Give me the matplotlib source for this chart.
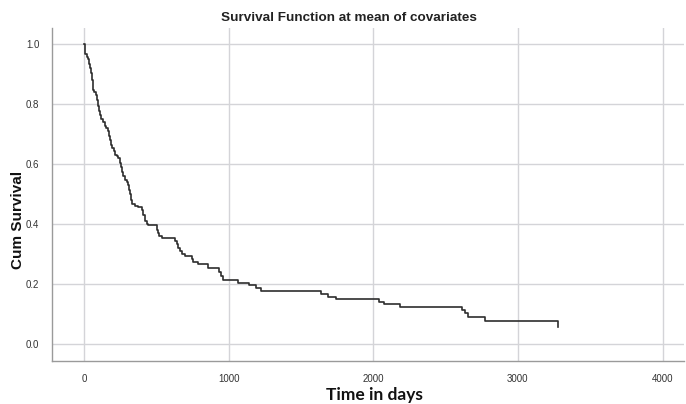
import matplotlib
matplotlib.use("Agg")
import matplotlib.pyplot as plt

# step points of the survival curve (time in days, cumulative survival)
times = [0, 5, 10, 18, 28, 35, 42, 51, 56, 62, 70, 80, 88, 96, 104, 112, 120,
         130, 143, 155, 166, 172, 180, 188, 196, 205, 214, 225, 237, 248, 256,
         262, 272, 283, 295, 306, 312, 318, 324, 329, 350, 375, 398, 410, 421,
         433, 444, 502, 510, 520, 537, 628, 640, 651, 663, 675, 697, 744, 755,
         789, 858, 934, 945, 958, 1066, 1142, 1188, 1227, 1641, 1688, 1740,
         2039, 2072, 2187, 2615, 2635, 2654, 2776, 3276]
surv = [1.0, 0.985, 0.968, 0.958, 0.949, 0.935, 0.92, 0.905, 0.88, 0.848, 0.84,
        0.83, 0.815, 0.795, 0.778, 0.765, 0.752, 0.74, 0.728, 0.72, 0.712,
        0.695, 0.68, 0.665, 0.655, 0.645, 0.632, 0.628, 0.622, 0.605, 0.59,
        0.575, 0.56, 0.548, 0.54, 0.532, 0.515, 0.5, 0.482, 0.466, 0.462,
        0.458, 0.448, 0.43, 0.412, 0.402, 0.396, 0.38, 0.37, 0.362, 0.354,
        0.345, 0.335, 0.322, 0.31, 0.302, 0.294, 0.284, 0.275, 0.266, 0.254,
        0.24, 0.228, 0.213, 0.204, 0.196, 0.188, 0.177, 0.167, 0.159, 0.150,
        0.142, 0.133, 0.123, 0.113, 0.103, 0.091, 0.078, 0.059]

xticks = [0, 1000, 2000, 3000, 4000]
yticks = [0.0, 0.2, 0.4, 0.6, 0.8, 1.0]

fig = plt.figure(figsize=(6.86, 4.04), dpi=100)
ax = fig.add_axes([0.0754, 0.1064, 0.922, 0.8243])

ax.plot(times, surv, drawstyle='steps-post', color='#2e2e2e', linewidth=1.2, zorder=3)

ax.set_xlim(-223, 4150)
ax.set_ylim(-0.056, 1.054)
ax.set_xticks(xticks)
ax.set_yticks(yticks)
ax.set_xticklabels([str(t) for t in xticks])
ax.set_yticklabels(['%.1f' % v for v in yticks])
ax.grid(True, color='#d4d4d8', linewidth=1.0)
ax.set_axisbelow(True)

for s in ['top', 'right']:
    ax.spines[s].set_visible(False)
for s in ['left', 'bottom']:
    ax.spines[s].set_color('#9a9a9a')
    ax.spines[s].set_linewidth(1.0)

ax.tick_params(axis='both', length=0, labelsize=7, labelcolor='#333333', pad=9)
for lab in ax.get_xticklabels() + ax.get_yticklabels():
    lab.set_family('Liberation Sans')

fig.text(0.509, 0.955, 'Survival Function at mean of covariates', ha='center', va='center',
         fontsize=9.7, fontweight='bold', family='Liberation Sans', color='#222222')
fig.text(0.026, 0.455, 'Cum Survival', rotation=90, ha='center', va='center',
         fontsize=11, fontweight='bold', family='Liberation Sans', color='#111111')
fig.text(0.546, 0.022, 'Time in days', ha='center', va='center',
         fontsize=12.5, fontweight='bold', family='Lato', color='#111111')

fig.savefig('out.png', dpi=100)
